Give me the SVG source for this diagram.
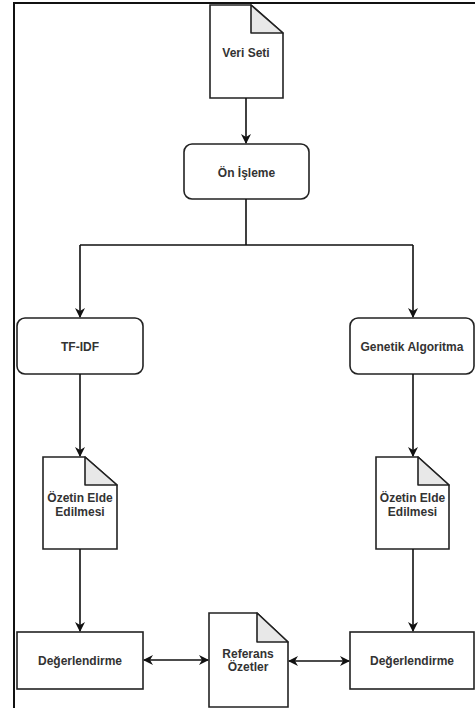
<svg xmlns="http://www.w3.org/2000/svg" width="475" height="708" viewBox="0 0 475 708">
<defs>
<style>
.shape{fill:#fff;stroke:#222;stroke-width:1.6}
.fold{fill:#e8e8e8;stroke:#222;stroke-width:1.6;stroke-linejoin:round}
.lbl{font-family:"Liberation Sans",Arial,sans-serif;font-size:12px;font-weight:bold;fill:#333;text-anchor:middle}
.conn{fill:none;stroke:#111;stroke-width:1.6}
</style>
<marker id="ah" viewBox="0 0 10 10" refX="9" refY="5" markerWidth="10" markerHeight="10" markerUnits="userSpaceOnUse" orient="auto-start-reverse">
<path d="M0,0 L10,5 L0,10 L3,5 Z" fill="#111"/>
</marker>
</defs>
<rect width="475" height="708" fill="#fff"/>
<path d="M14,708 L14,3 L475,3" fill="none" stroke="#111" stroke-width="2"/>
<g id="veri-seti">
<path class="shape" d="M210,5 H251 L283,33 V98 H210 Z"/>
<path class="fold" d="M251,5 V33 H283 Z"/>
<text class="lbl" x="246" y="57">Veri Seti</text>
</g>
<g id="on-isleme">
<rect class="shape" x="184" y="144" width="125" height="55" rx="8"/>
<text class="lbl" x="246.5" y="177">Ön İşleme</text>
</g>
<g id="tfidf">
<rect class="shape" x="17" y="318" width="126" height="56" rx="8"/>
<text class="lbl" x="80" y="351">TF-IDF</text>
</g>
<g id="genetik">
<rect class="shape" x="350" y="318" width="124" height="56" rx="8"/>
<text class="lbl" x="412" y="351">Genetik Algoritma</text>
</g>
<g id="ozet-sol">
<path class="shape" d="M43,457 H85 L117,485 V549 H43 Z"/>
<path class="fold" d="M85,457 V485 H117 Z"/>
<text class="lbl" x="80" y="502">Özetin Elde</text>
<text class="lbl" x="80" y="516">Edilmesi</text>
</g>
<g id="ozet-sag">
<path class="shape" d="M376,457 H418 L449,485 V549 H376 Z"/>
<path class="fold" d="M418,457 V485 H449 Z"/>
<text class="lbl" x="412.5" y="502">Özetin Elde</text>
<text class="lbl" x="412.5" y="516">Edilmesi</text>
</g>
<g id="deger-sol">
<rect class="shape" x="17" y="632" width="126" height="57"/>
<text class="lbl" x="80" y="665">Değerlendirme</text>
</g>
<g id="deger-sag">
<rect class="shape" x="350" y="632" width="124" height="57"/>
<text class="lbl" x="412" y="665">Değerlendirme</text>
</g>
<g id="referans">
<path class="shape" d="M209,613 H257 L288,642 V707 H209 Z"/>
<path class="fold" d="M257,613 V642 H288 Z"/>
<text class="lbl" x="248" y="658">Referans</text>
<text class="lbl" x="248" y="671">Özetler</text>
</g>
<g id="connectors">
<path class="conn" d="M246,98 V143" marker-end="url(#ah)"/>
<path class="conn" d="M246,199 V245 M80,245 H413"/>
<path class="conn" d="M80,245 V317" marker-end="url(#ah)"/>
<path class="conn" d="M413,245 V317" marker-end="url(#ah)"/>
<path class="conn" d="M80,374 V456" marker-end="url(#ah)"/>
<path class="conn" d="M413,374 V456" marker-end="url(#ah)"/>
<path class="conn" d="M80,549 V631" marker-end="url(#ah)"/>
<path class="conn" d="M413,549 V631" marker-end="url(#ah)"/>
<path class="conn" d="M144,660 H208" marker-start="url(#ah)" marker-end="url(#ah)"/>
<path class="conn" d="M289,661 H349" marker-start="url(#ah)" marker-end="url(#ah)"/>
</g>
</svg>
